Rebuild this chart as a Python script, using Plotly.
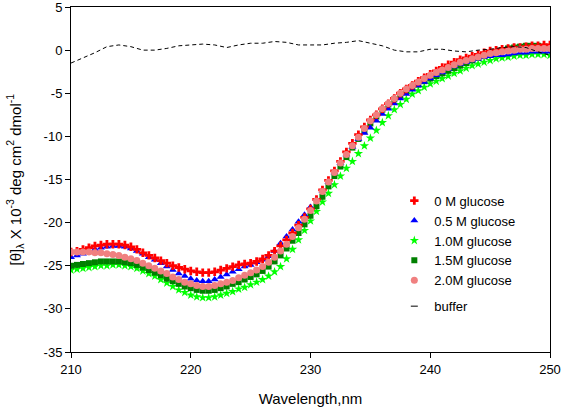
import plotly.graph_objects as go

# wavelength grid of the CD spectra (nm), 0.5 nm steps
wavelength = [210 + 0.5 * i for i in range(81)]

glucose_0 = [
    -23.4, -23.3, -23.1, -22.9, -22.7, -22.6, -22.5, -22.5, -22.5, -22.6,
    -22.8, -23.1, -23.5, -23.8, -24.1, -24.4, -24.7, -25.0, -25.2, -25.4,
    -25.6, -25.7, -25.8, -25.8, -25.7, -25.5, -25.3, -25.1, -24.9, -24.8,
    -24.7, -24.5, -24.2, -23.8, -23.3, -22.7, -22.0, -21.2, -20.3, -19.4,
    -18.4, -17.3, -16.2, -15.1, -14.0, -12.9, -11.8, -10.8, -9.8, -8.9,
    -8.1, -7.5, -6.8, -6.2, -5.6, -5.0, -4.5, -4.1, -3.6, -3.2,
    -2.8, -2.4, -2.0, -1.7, -1.4, -1.1, -0.9, -0.7, -0.5, -0.3,
    -0.1, 0.0, 0.1, 0.2, 0.3, 0.3, 0.4, 0.5, 0.5, 0.6, 0.6,
]

glucose_05 = [
    -24.0, -23.8, -23.6, -23.4, -23.1, -22.9, -22.8, -22.7, -22.7, -22.8,
    -23.0, -23.3, -23.6, -24.0, -24.3, -24.7, -25.1, -25.5, -25.9, -26.2,
    -26.5, -26.7, -26.8, -26.8, -26.6, -26.3, -26.0, -25.7, -25.4, -25.1,
    -24.9, -24.6, -24.3, -23.9, -23.3, -22.4, -21.6, -20.8, -19.9, -19.1,
    -18.2, -17.3, -16.3, -15.3, -14.2, -13.1, -12.1, -11.2, -10.3, -9.6,
    -9.0, -8.2, -7.4, -6.8, -6.2, -5.6, -5.1, -4.6, -4.1, -3.7,
    -3.3, -2.9, -2.6, -2.2, -1.9, -1.6, -1.4, -1.2, -1.0, -0.8,
    -0.7, -0.6, -0.6, -0.5, -0.4, -0.3, -0.3, -0.2, -0.2, -0.2, -0.2,
]

glucose_10 = [
    -25.5, -25.4, -25.3, -25.2, -25.1, -25.0, -25.0, -24.9, -24.9, -25.0,
    -25.1, -25.3, -25.6, -25.9, -26.2, -26.6, -27.0, -27.4, -27.8, -28.1,
    -28.4, -28.6, -28.7, -28.7, -28.6, -28.4, -28.2, -28.0, -27.7, -27.5,
    -27.2, -26.9, -26.6, -26.2, -25.7, -25.1, -24.2, -23.1, -22.0, -20.9,
    -19.8, -18.7, -17.6, -16.6, -15.6, -14.6, -13.7, -12.9, -12.0, -11.1,
    -10.2, -9.3, -8.4, -7.6, -6.9, -6.3, -5.7, -5.1, -4.7, -4.3,
    -3.9, -3.6, -3.3, -3.0, -2.7, -2.4, -2.1, -1.8, -1.6, -1.4,
    -1.2, -1.0, -0.9, -0.8, -0.7, -0.6, -0.6, -0.5, -0.5, -0.5, -0.6,
]

glucose_15 = [
    -25.0, -24.9, -24.8, -24.7, -24.6, -24.5, -24.5, -24.5, -24.5, -24.6,
    -24.7, -24.9, -25.2, -25.5, -25.8, -26.1, -26.5, -26.8, -27.1, -27.4,
    -27.6, -27.8, -27.9, -27.9, -27.8, -27.6, -27.4, -27.1, -26.9, -26.6,
    -26.3, -26.0, -25.6, -25.1, -24.5, -23.8, -23.0, -22.1, -21.2, -20.2,
    -19.2, -18.1, -17.0, -15.8, -14.6, -13.5, -12.4, -11.3, -10.3, -9.4,
    -8.5, -7.7, -6.9, -6.3, -5.7, -5.2, -4.8, -4.4, -4.0, -3.6,
    -3.3, -3.0, -2.7, -2.4, -2.1, -1.8, -1.5, -1.2, -0.9, -0.7,
    -0.4, -0.2, 0.0, 0.2, 0.3, 0.4, 0.5, 0.5, 0.5, 0.4, 0.3,
]

glucose_20 = [
    -23.4, -23.4, -23.4, -23.4, -23.5, -23.5, -23.6, -23.7, -23.8, -24.0,
    -24.2, -24.4, -24.7, -25.0, -25.3, -25.6, -25.9, -26.3, -26.6, -26.9,
    -27.1, -27.3, -27.4, -27.4, -27.3, -27.1, -26.9, -26.7, -26.4, -26.1,
    -25.8, -25.5, -25.1, -24.6, -24.0, -23.3, -22.5, -21.6, -20.6, -19.6,
    -18.6, -17.5, -16.4, -15.3, -14.2, -13.1, -12.1, -11.1, -10.1, -9.1,
    -8.2, -7.5, -6.8, -6.2, -5.6, -5.0, -4.5, -4.1, -3.7, -3.3,
    -2.9, -2.6, -2.3, -2.0, -1.7, -1.4, -1.2, -1.0, -0.8, -0.6,
    -0.4, -0.3, -0.2, -0.1, 0.0, 0.1, 0.1, 0.2, 0.2, 0.2, 0.2,
]

# buffer baseline, 1 nm steps
buffer_wl = list(range(210, 251))
buffer_vals = [
    -1.5, -0.9, -0.3, 0.4, 0.6, 0.4, 0.0, 0.0, 0.2, 0.5,
    0.6, 0.7, 0.6, 0.3, 0.6, 0.8, 0.8, 1.0, 0.9, 0.6,
    0.6, 0.6, 0.8, 0.9, 1.1, 0.8, 0.5, 0.0, -0.2, -0.2,
    0.1, 0.1, -0.1, -0.2, 0.0, 0.1, 0.3, 0.4, 0.3, -0.2, -0.6,
]

y_ticks = [5, 0, -5, -10, -15, -20, -25, -30, -35]
x_ticks = [210, 220, 230, 240, 250]

FONT = "Liberation Sans, Arial, sans-serif"
Y_TITLE = "[θ]<sub>λ</sub> X 10<sup>-3</sup> deg cm<sup>2</sup> dmol<sup>-1</sup>"

# (name, values, colour, symbol, size, legend rank) in drawing order
series = [
    ("1.0M glucose", glucose_10, "#00ff00", "star", 7, 3),
    ("1.5M glucose", glucose_15, "#008000", "square", 6, 4),
    ("0.5 M glucose", glucose_05, "#0000ff", "triangle-up", 7, 2),
    ("0 M glucose", glucose_0, "#ff0000", "cross", 7, 1),
    ("2.0M glucose", glucose_20, "#f08080", "circle", 7, 5),
]

fig = go.Figure()

for name, vals, color, symbol, size, rank in series:
    fig.add_trace(go.Scatter(
        x=wavelength, y=vals, mode="markers", name=name,
        marker=dict(symbol=symbol, size=size, color=color, line=dict(width=0)),
        legendgroup="glucose", legendrank=rank,
    ))

fig.add_trace(go.Scatter(
    x=buffer_wl, y=buffer_vals, mode="lines", name="buffer",
    line=dict(color="black", width=1, dash="4px,3px"),
    showlegend=False,
))
# short dash as the legend key for the buffer line
fig.add_trace(go.Scatter(
    x=[None], y=[None], mode="markers", name="buffer",
    marker=dict(symbol="line-ew", size=5, color="black",
                line=dict(color="black", width=1)),
    legendgroup="buffer", legendrank=6,
))

fig.update_layout(
    width=576, height=409,
    margin=dict(l=71, r=26, t=7, b=57),
    paper_bgcolor="white", plot_bgcolor="white",
    font=dict(family=FONT, size=13, color="black"),
    legend=dict(
        x=0.675, y=0.482, xanchor="left", yanchor="top",
        bgcolor="rgba(0,0,0,0)", font=dict(size=13),
        traceorder="grouped", tracegroupgap=6,
    ),
    xaxis=dict(
        range=[210, 250], tickvals=x_ticks, ticktext=[str(t) for t in x_ticks],
        showline=True, linecolor="black", linewidth=1, mirror=True,
        ticks="outside", ticklen=5, tickcolor="black", showgrid=False,
        zeroline=False, ticklabeloverflow="allow", automargin=False,
        title=dict(text="Wavelength,nm", font=dict(size=15), standoff=17),
    ),
    yaxis=dict(
        range=[-35, 5], tickvals=y_ticks, ticktext=[str(t) for t in y_ticks],
        showline=True, linecolor="black", linewidth=1, mirror=True,
        ticks="outside", ticklen=5, tickcolor="black", showgrid=False,
        zeroline=False, ticklabeloverflow="allow", automargin=False,
    ),
    # y title as a rotated annotation so it sits close to the page edge
    annotations=[dict(
        text=Y_TITLE, textangle=-90, showarrow=False,
        xref="paper", yref="paper", x=-0.117, y=0.5,
        xanchor="center", yanchor="middle", font=dict(size=15),
    )],
)

# drop the default page margin so the figure sits at the window corner
fig.write_html(
    "out.html",
    config={"displayModeBar": False},
    post_script="document.body.style.margin='0';",
)
